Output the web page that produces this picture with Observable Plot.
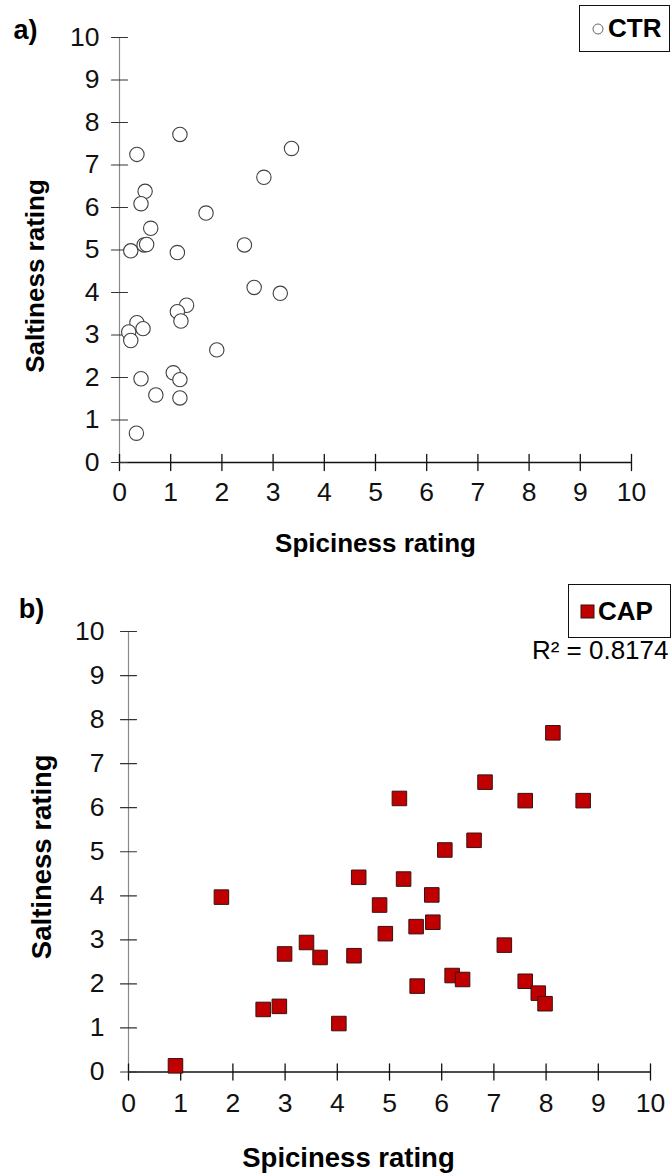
<!DOCTYPE html>
<html>
<head>
<meta charset="utf-8">
<script src="https://cdn.jsdelivr.net/npm/d3@7"></script>
<script src="https://cdn.jsdelivr.net/npm/@observablehq/plot@0.6"></script>
<style>
  body { margin: 0; background: #fff; font-family: "Liberation Sans", Arial, sans-serif; color: #000; }
  #wrap { position: relative; width: 671px; height: 1173px; overflow: hidden; }
  #wrap svg { display: block; }
  .legend { position: absolute; box-sizing: border-box; border: 1.5px solid #111; background: #fff;
            display: flex; align-items: center; font-weight: bold; font-size: 26px; }
  .legend svg { display: inline-block; margin-right: 3px; }
</style>
</head>
<body>
<div id="wrap"></div>
<script>
// ---- data ----
const ticks = [0, 1, 2, 3, 4, 5, 6, 7, 8, 9, 10];
const xTitle = "Spiciness rating";
const yTitle = "Saltiness rating";
const panelLabels = ["a)", "b)"];
const seriesNames = ["CTR", "CAP"];
const rSquaredLabel = "R\u00B2 = 0.8174";

const ctrSpiciness = [1.18, 0.34, 3.36, 2.82, 0.50, 0.42, 1.69, 0.61, 0.48, 0.53, 0.22, 1.13, 2.44, 2.63, 3.14,
                      1.31, 1.13, 1.20, 0.34, 0.46, 0.18, 0.22, 1.90, 0.42, 1.05, 1.18, 0.71, 1.18, 0.33];
const ctrSaltiness = [7.72, 7.25, 7.39, 6.71, 6.38, 6.09, 5.87, 5.51, 5.12, 5.13, 4.98, 4.94, 5.12, 4.12, 3.98,
                      3.70, 3.55, 3.33, 3.29, 3.15, 3.07, 2.87, 2.65, 1.97, 2.11, 1.95, 1.59, 1.52, 0.69];

const capSpiciness = [8.13, 6.83, 5.19, 7.60, 8.71, 6.62, 6.06, 4.41, 5.27, 1.78, 5.81, 4.81, 5.83, 5.51, 4.92,
                      3.41, 7.20, 2.99, 3.67, 4.32, 6.20, 6.40, 5.53, 7.60, 7.85, 7.98, 2.89, 2.58, 4.03, 0.90];
const capSaltiness = [7.70, 6.58, 6.21, 6.16, 6.16, 5.26, 5.04, 4.42, 4.38, 3.97, 4.02, 3.79, 3.40, 3.30, 3.14,
                      2.94, 2.88, 2.68, 2.60, 2.64, 2.19, 2.10, 1.95, 2.06, 1.79, 1.55, 1.49, 1.42, 1.10, 0.14];

const ctr = ctrSpiciness.map((x, i) => ({x, y: ctrSaltiness[i]}));
const cap = capSpiciness.map((x, i) => ({x, y: capSaltiness[i]}));

// ---- helpers ----
const lineShape = {draw(ctx, l) { ctx.moveTo(0, 0); ctx.lineTo(0, -l); }};
const centered = {textAnchor: "middle", lineAnchor: "middle"};

function axesMarks(opts) {
  return [
    Plot.ruleX([0], {y1: 0, y2: 10, stroke: "#8a8a8a", strokeWidth: 1.2}),
    Plot.ruleY([0], {x1: 0, x2: 10, stroke: "#111", strokeWidth: 1.3}),
    Plot.vector(ticks, {x: d => d, y: 0, length: 16, anchor: "middle", shape: lineShape, stroke: "#111", strokeWidth: 1.3}),
    Plot.vector(ticks, {x: 0, y: d => d, length: 16, rotate: 90, anchor: "middle", shape: lineShape, stroke: "#333", strokeWidth: 1.2}),
    Plot.axisX(ticks, {tickSize: 0, tickPadding: opts.xPad, fontSize: opts.tickFont, fill: "#111", label: null}),
    Plot.axisY(ticks, {tickSize: 0, tickPadding: opts.yPad, fontSize: opts.tickFont, fill: "#111", label: null}),
    Plot.text([xTitle], {frameAnchor: "bottom", ...centered, dx: opts.xTitleDx, dy: opts.xTitleDy, fontSize: opts.titleFont, fontWeight: "bold", fill: "#000"}),
    Plot.text([yTitle], {frameAnchor: "left", ...centered, rotate: -90, dx: opts.yTitleDx, dy: opts.yTitleDy, fontSize: opts.titleFont, fontWeight: "bold", fill: "#000"}),
    Plot.text([opts.panel], {frameAnchor: "top-left", ...centered, dx: opts.panelDx, dy: opts.panelDy, fontSize: 27, fontWeight: "bold", fill: "#000"})
  ];
}

const wrap = document.getElementById("wrap");
const font = "'Liberation Sans', Arial, sans-serif";

// ---- panel a ----
const plotA = Plot.plot({
  width: 671, height: 580,
  marginLeft: 119, marginRight: 40, marginTop: 37, marginBottom: 118,
  x: {domain: [0, 10]}, y: {domain: [0, 10]},
  style: {fontFamily: font, background: "#fff", overflow: "visible"},
  marks: [
    ...axesMarks({xPad: 20, yPad: 20, tickFont: 26.5, titleFont: 26,
                  xTitleDx: 0, xTitleDy: 81, yTitleDx: -84, yTitleDy: 26,
                  panel: panelLabels[0], panelDx: -94, panelDy: -7}),
    Plot.dot(ctr, {x: "x", y: "y", r: 7.2, fill: "#fff", stroke: "#404040", strokeWidth: 1.1})
  ]
});
wrap.appendChild(plotA);

// ---- panel b ----
const plotB = Plot.plot({
  width: 671, height: 593,
  marginLeft: 128, marginRight: 21, marginTop: 51, marginBottom: 101.5,
  x: {domain: [0, 10]}, y: {domain: [0, 10]},
  style: {fontFamily: font, background: "#fff", overflow: "visible"},
  marks: [
    ...axesMarks({xPad: 21, yPad: 24, tickFont: 26.5, titleFont: 27.5,
                  xTitleDx: -41, xTitleDy: 86.5, yTitleDx: -86, yTitleDy: 5,
                  panel: panelLabels[1], panelDx: -97, panelDy: -22}),
    Plot.text([rSquaredLabel], {frameAnchor: "top-right", textAnchor: "end", lineAnchor: "middle", dx: 18, dy: 19, fontSize: 26, fill: "#000"}),
    Plot.dot(cap, {x: "x", y: "y", symbol: "square", r: 8.2, fill: "#c00000", stroke: "#3a1010", strokeWidth: 1})
  ]
});
wrap.appendChild(plotB);

// ---- legends ----
function legend(left, top, w, h, swatch, name) {
  const d = document.createElement("div");
  d.className = "legend";
  Object.assign(d.style, {left: left + "px", top: top + "px", width: w + "px", height: h + "px", paddingLeft: "11px"});
  d.innerHTML = swatch + `<span>${name}</span>`;
  wrap.appendChild(d);
}
legend(579, 5, 91, 47,
  `<svg width="14" height="14"><circle cx="7" cy="7" r="5" fill="#fff" stroke="#666" stroke-width="1"/></svg>`,
  seriesNames[0]);
legend(568, 584, 103, 54,
  `<svg width="15" height="15"><rect x="1" y="1" width="13" height="13" fill="#c00000" stroke="#3a1010" stroke-width="1"/></svg>`,
  seriesNames[1]);
</script>
</body>
</html>
